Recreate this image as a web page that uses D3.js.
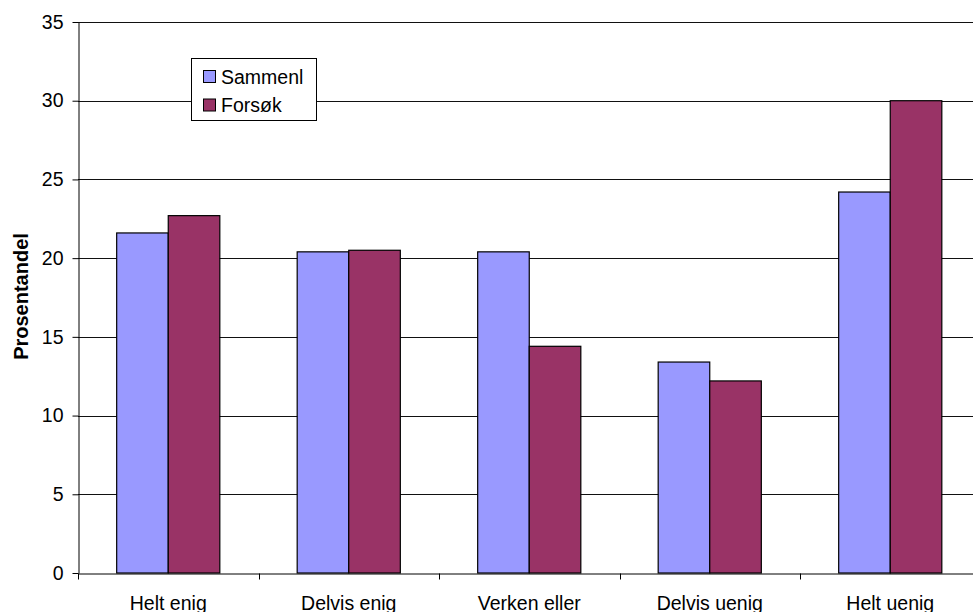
<!DOCTYPE html>
<html>
<head>
<meta charset="utf-8">
<script src="https://cdn.jsdelivr.net/npm/d3@7"></script>
<style>
  body { margin: 0; background: #fff; }
  svg { display: block; font-family: "Liberation Sans", Arial, sans-serif; }
</style>
</head>
<body>
<svg id="chart" width="973" height="612"></svg>
<script>
const categories = ["Helt enig", "Delvis enig", "Verken eller", "Delvis uenig", "Helt uenig"];
const seriesNames = ["Sammenl", "Forsøk"];
const sammenl = [21.6, 20.4, 20.4, 13.4, 24.2];
const forsok = [22.7, 20.5, 14.4, 12.2, 30.0];
const yTicks = [0, 5, 10, 15, 20, 25, 30, 35];
const colors = ["#9999FF", "#993366"];
const yTitle = "Prosentandel";

(function () {
const svg = d3.select("#chart");
const pL = 78, pR = 980.5, pT = 22, pB = 573;
const fs = 19.5;

const x = d3.scaleBand().domain(categories).range([pL, pR]).padding(0);
const y = d3.scaleLinear().domain([0, 35]).range([pB, pT]);
const bw = x.bandwidth();
const barW = bw / 3.5;
const sub = d3.scaleBand().domain(seriesNames).range([0, barW * 2]);

// gridlines
svg.append("g").selectAll("line").data(yTicks.filter(d => d > 0)).join("line")
  .attr("x1", pL).attr("x2", pR)
  .attr("y1", d => Math.round(y(d)) + 0.5).attr("y2", d => Math.round(y(d)) + 0.5)
  .attr("stroke", "#111").attr("stroke-width", 1);

// bars
const data = categories.map((c, i) => ({ c, vals: [sammenl[i], forsok[i]] }));
const groups = svg.append("g").selectAll("g").data(data).join("g")
  .attr("transform", d => `translate(${x(d.c) + (bw - barW * 2) / 2},0)`);
groups.selectAll("rect").data(d => d.vals.map((v, j) => ({ v, s: seriesNames[j], j })))
  .join("rect")
  .attr("x", d => sub(d.s))
  .attr("width", sub.bandwidth())
  .attr("y", d => y(d.v))
  .attr("height", d => y(0) - y(d.v))
  .attr("fill", d => colors[d.j])
  .attr("stroke", "#000").attr("stroke-width", 1.2);

// y axis
const yAxis = d3.axisLeft(y).tickValues(yTicks).tickSize(6).tickPadding(9).tickSizeOuter(0);
const gy = svg.append("g").attr("transform", `translate(${pL + 0.5},0)`).call(yAxis);
gy.selectAll("text").attr("font-size", fs).attr("fill", "#000").attr("font-family", "Liberation Sans, Arial, sans-serif");
gy.selectAll("line, path").attr("stroke", "#000");

// x axis
const xAxis = d3.axisBottom(x).tickSize(0).tickPadding(0).tickSizeOuter(0);
const gx = svg.append("g").attr("transform", `translate(0,${pB + 0.5})`).call(xAxis);
gx.select("path").attr("stroke", "#000");
gx.selectAll("text").attr("font-size", fs).attr("fill", "#000")
  .attr("font-family", "Liberation Sans, Arial, sans-serif")
  .attr("dy", 0).attr("y", 36);
// category boundary ticks
const bounds = categories.map(c => x(c)).concat([pR]);
gx.append("g").selectAll("line").data(bounds).join("line")
  .attr("x1", d => Math.round(d) + 0.5).attr("x2", d => Math.round(d) + 0.5)
  .attr("y1", 0).attr("y2", 6).attr("stroke", "#000");

// y title
svg.append("text")
  .attr("transform", "translate(28,296.5) rotate(-90)")
  .attr("text-anchor", "middle")
  .attr("font-size", 20).attr("font-weight", "bold")
  .text(yTitle);

// legend
const lg = svg.append("g");
lg.append("rect").attr("x", 191.5).attr("y", 58.5).attr("width", 125).attr("height", 62)
  .attr("fill", "#fff").attr("stroke", "#000");
seriesNames.forEach((s, i) => {
  const cy = 77 + i * 28.5;
  lg.append("rect").attr("x", 203.5).attr("y", cy - 6.5).attr("width", 12).attr("height", 12)
    .attr("fill", colors[i]).attr("stroke", "#000");
  lg.append("text").attr("x", 221).attr("y", cy + 6.5).attr("font-size", fs).text(s);
});
})();
</script>
</body>
</html>
